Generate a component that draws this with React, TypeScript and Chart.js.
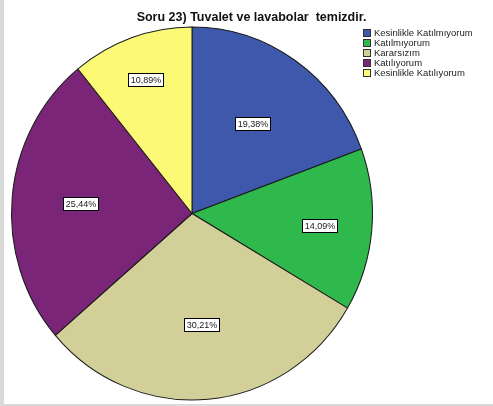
import React, { useEffect, useRef } from "react";
import { Chart, registerables } from "chart.js";

Chart.register(...registerables);

const TITLE = "Soru 23) Tuvalet ve lavabolar  temizdir.";
const CATEGORIES = [
  "Kesinlikle Katılmıyorum",
  "Katılmıyorum",
  "Kararsızım",
  "Katılıyorum",
  "Kesinlikle Katılıyorum",
];
const PERCENTS = [19.38, 14.09, 30.21, 25.44, 10.89];
const COLORS = ["#3e58ac", "#2fb84c", "#d3cf99", "#7b2579", "#fbf976"];

const W = 493;
const H = 406;
const FONT = '"Liberation Sans", Arial, sans-serif';

const decorPlugin = {
  id: "decor",
  beforeDraw(chart: any) {
    const ctx = chart.ctx;
    ctx.save();
    ctx.fillStyle = "#ffffff";
    ctx.fillRect(0, 0, W, H);
    ctx.fillStyle = "#d9d9d9";
    ctx.fillRect(0, 0, 4, H);
    ctx.fillRect(0, H - 2, W, 2);
    ctx.restore();
  },
  beforeDatasetsDraw(chart: any, _args: any, opts: any) {
    const meta = chart.getDatasetMeta(0);
    const arc = meta.data[0];
    const ctx = chart.ctx;
    ctx.save();
    ctx.translate(arc.x, arc.y);
    ctx.scale(1, opts.scaleY);
    ctx.translate(-arc.x, -arc.y);
  },
  afterDatasetsDraw(chart: any) {
    chart.ctx.restore();
  },
  afterDraw(chart: any, _args: any, opts: any) {
    const ctx = chart.ctx;
    const meta = chart.getDatasetMeta(0);
    const data = chart.data.datasets[0].data as number[];
    ctx.save();
    // value labels
    ctx.font = "9px " + FONT;
    ctx.textBaseline = "middle";
    ctx.textAlign = "center";
    meta.data.forEach((a: any, i: number) => {
      const mid = (a.startAngle + a.endAngle) / 2;
      const f = opts.labelRadius[i];
      const r = a.outerRadius * f;
      const x = a.x + Math.cos(mid) * r;
      const y = a.y + Math.sin(mid) * r * opts.scaleY;
      const txt = data[i].toFixed(2).replace(".", ",") + "%";
      const tw = ctx.measureText(txt).width;
      const bw = Math.round(tw + 4);
      const bh = 13;
      const bx = Math.round(x - bw / 2) + 0.5;
      const by = Math.round(y - bh / 2) + 0.5;
      ctx.fillStyle = "#ffffff";
      ctx.fillRect(bx, by, bw, bh);
      ctx.strokeStyle = "#000000";
      ctx.lineWidth = 1;
      ctx.strokeRect(bx, by, bw, bh);
      ctx.fillStyle = "#1a1a1a";
      ctx.fillText(txt, bx + bw / 2, by + bh / 2 + 0.5);
    });
    // title
    ctx.font = "bold 12.5px " + FONT;
    ctx.textAlign = "center";
    ctx.textBaseline = "alphabetic";
    ctx.fillStyle = "#111111";
    ctx.fillText(TITLE, 251.5, 21);
    // legend
    ctx.font = "9.5px " + FONT;
    ctx.textAlign = "left";
    ctx.textBaseline = "middle";
    CATEGORIES.forEach((c, i) => {
      const y = 33 + i * 10;
      ctx.fillStyle = COLORS[i];
      ctx.fillRect(363.5, y - 3.5, 7, 7);
      ctx.strokeStyle = "#333333";
      ctx.lineWidth = 1;
      ctx.strokeRect(363.5, y - 3.5, 7, 7);
      ctx.fillStyle = "#222222";
      ctx.fillText(c, 374, y + 0.5);
    });
    ctx.restore();
  },
};

export default function App() {
  const ref = useRef<HTMLCanvasElement | null>(null);
  useEffect(() => {
    if (!ref.current) return;
    const chart = new Chart(ref.current, {
      type: "pie",
      data: {
        labels: CATEGORIES,
        datasets: [
          {
            data: PERCENTS,
            backgroundColor: COLORS,
            borderColor: "#1a1a1a",
            borderWidth: 1,
            radius: 180.5,
          } as any,
        ],
      },
      options: {
        responsive: false,
        animation: false,
        layout: { padding: { left: 0, right: 109, top: 21, bottom: 0 } },
        plugins: {
          legend: { display: false },
          title: { display: false },
          tooltip: { enabled: false },
          decor: {
            scaleY: 186.5 / 180.5,
            labelRadius: [0.59, 0.71, 0.6, 0.62, 0.76],
          },
        } as any,
      },
      plugins: [decorPlugin],
    });
    return () => chart.destroy();
  }, []);
  return (
    <div style={{ position: "absolute", left: 0, top: 0, width: W, height: H }}>
      <canvas ref={ref} width={W} height={H} style={{ width: W, height: H, display: "block" }} />
    </div>
  );
}
